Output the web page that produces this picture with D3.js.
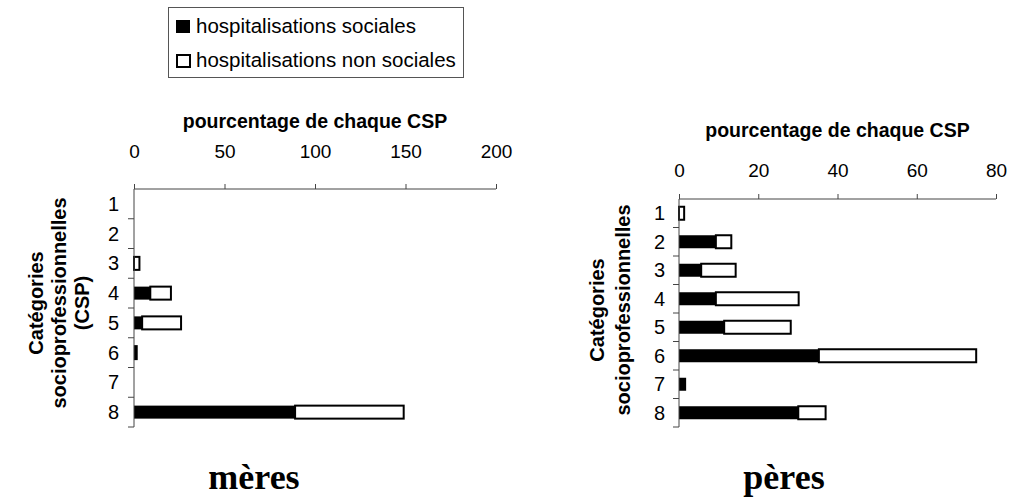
<!DOCTYPE html>
<html>
<head>
<meta charset="utf-8">
<script src="https://cdn.jsdelivr.net/npm/d3@7"></script>
<style>
  body { margin: 0; background: #fff; }
  svg { display: block; }
  text { font-family: "Liberation Sans", Arial, sans-serif; fill: #000; }
  .titre { font-weight: bold; }
  .panel { font-family: "Liberation Serif", "Times New Roman", serif; font-weight: bold; }
</style>
</head>
<body>
<svg width="1013" height="501"></svg>
<script>
// CSP 1..8
var categories = ["1", "2", "3", "4", "5", "6", "7", "8"];
var keys = ["sociales", "nonSociales"];
var legendLabels = ["hospitalisations sociales", "hospitalisations non sociales"];

// mères
var meresSociales    = [0, 0, 0, 9, 4.5, 0.5, 0, 89];
var meresNonSociales = [0, 0, 3, 11.4, 21.5, 1, 0, 60];
var meresTicks = [0, 50, 100, 150, 200];

// pères
var peresSociales    = [0, 9.3, 5.6, 9.3, 11.4, 35.3, 1.8, 30.1];
var peresNonSociales = [1.3, 3.9, 8.7, 20.9, 16.8, 39.7, 0, 6.9];
var peresTicks = [0, 20, 40, 60, 80];

var svg = d3.select("svg");

function rows(soc, non) {
  return categories.map(function(c, i) {
    return {cat: c, sociales: soc[i], nonSociales: non[i]};
  });
}

function drawPanel(cfg) {
  var g = svg.append("g");
  var x = d3.scaleLinear()
      .domain([0, d3.max(cfg.ticks)])
      .range([cfg.x0, cfg.x1]);
  var y = d3.scaleBand()
      .domain(categories)
      .range([cfg.y0, cfg.y1])
      .padding(0);
  var bw = y.bandwidth(), bh = 13;

  var series = d3.stack().keys(keys)(cfg.data);

  // bars
  g.selectAll("g.serie")
    .data(series)
    .enter().append("g")
      .attr("class", "serie")
    .selectAll("rect")
    .data(function(d) { return d.map(function(v) { v.key = d.key; return v; }); })
    .enter().append("rect")
      .filter(function(d) { return d[1] - d[0] > 0; })
      .attr("x", function(d) { return x(d[0]); })
      .attr("y", function(d) { return y(d.data.cat) + (bw - bh) / 2; })
      .attr("width", function(d) { return x(d[1]) - x(d[0]); })
      .attr("height", bh)
      .attr("fill", function(d) { return d.key == "sociales" ? "#000" : "#fff"; })
      .attr("stroke", "#000")
      .attr("stroke-width", function(d) { return d.key == "sociales" ? 0 : 2; });

  // x axis on top
  var xa = d3.axisTop(x).tickValues(cfg.ticks).tickSize(5).tickPadding(0);
  var gx = g.append("g")
      .attr("transform", "translate(0," + cfg.y0 + ")")
      .call(xa);
  gx.select(".domain").attr("stroke", "#444").attr("d", "M" + cfg.x0 + ",0H" + cfg.x1);
  gx.selectAll(".tick line").attr("stroke", "#444");
  gx.selectAll(".tick text")
      .attr("y", cfg.tickLabelY - cfg.y0)
      .attr("dy", 0)
      .style("font-size", "19px")
      .style("font-family", "Liberation Sans, Arial, sans-serif");

  // y axis, ticks between categories
  g.append("line")
      .attr("x1", cfg.x0).attr("x2", cfg.x0)
      .attr("y1", cfg.y0).attr("y2", cfg.y1)
      .attr("stroke", "#444");
  g.selectAll("line.ytick")
    .data(categories)
    .enter().append("line")
      .attr("class", "ytick")
      .attr("x1", cfg.x0 - 6).attr("x2", cfg.x0)
      .attr("y1", function(c) { return y(c) + bw; })
      .attr("y2", function(c) { return y(c) + bw; })
      .attr("stroke", "#444");
  g.selectAll("text.ylab")
    .data(categories)
    .enter().append("text")
      .attr("class", "ylab")
      .attr("x", cfg.catX)
      .attr("y", function(c) { return y(c) + bw / 2 + 7; })
      .attr("text-anchor", "end")
      .style("font-size", "20px")
      .text(function(c) { return c; });

  // axis titles
  g.append("text")
      .attr("class", "titre")
      .attr("x", (cfg.x0 + cfg.x1) / 2)
      .attr("y", cfg.titleY)
      .attr("text-anchor", "middle")
      .style("font-size", "19.5px")
      .text("pourcentage de chaque CSP");

  var yt = g.append("text")
      .attr("class", "titre")
      .attr("text-anchor", "middle")
      .attr("transform", "translate(" + cfg.yTitleX + "," + cfg.yTitleY + ") rotate(-90)")
      .style("font-size", "20px");
  yt.selectAll("tspan")
    .data(cfg.yTitle)
    .enter().append("tspan")
      .attr("x", 0)
      .attr("dy", function(d, i) { return i == 0 ? 0 : cfg.yTitleGap; })
      .text(function(d) { return d; });

  g.append("text")
      .attr("class", "panel")
      .attr("x", cfg.panelX)
      .attr("y", 489)
      .attr("text-anchor", "middle")
      .style("font-size", "36px")
      .text(cfg.panel);
}

drawPanel({
  data: rows(meresSociales, meresNonSociales), ticks: meresTicks,
  x0: 134, x1: 496, y0: 189, y1: 427,
  tickLabelY: 158, titleY: 128, catX: 119,
  yTitle: ["Catégories", "socioprofessionnelles", "(CSP)"],
  yTitleX: 43, yTitleY: 303, yTitleGap: 23,
  panel: "mères", panelX: 254
});

drawPanel({
  data: rows(peresSociales, peresNonSociales), ticks: peresTicks,
  x0: 679, x1: 996, y0: 199, y1: 427,
  tickLabelY: 177, titleY: 137, catX: 665,
  yTitle: ["Catégories", "socioprofessionnelles"],
  yTitleX: 604, yTitleY: 310, yTitleGap: 26,
  panel: "pères", panelX: 784
});

// legend
var leg = svg.append("g");
leg.append("rect")
    .attr("x", 168.5).attr("y", 7.5)
    .attr("width", 295).attr("height", 70)
    .attr("fill", "#fff").attr("stroke", "#555");
var li = leg.selectAll("g.item")
  .data(legendLabels)
  .enter().append("g")
    .attr("class", "item")
    .attr("transform", function(d, i) { return "translate(0," + (i * 34) + ")"; });
li.append("rect")
    .attr("x", function(d, i) { return i == 0 ? 176 : 177; })
    .attr("y", function(d, i) { return i == 0 ? 20 : 21; })
    .attr("width", function(d, i) { return i == 0 ? 14 : 13; })
    .attr("height", function(d, i) { return i == 0 ? 13 : 12; })
    .attr("fill", function(d, i) { return i == 0 ? "#000" : "#fff"; })
    .attr("stroke", "#000")
    .attr("stroke-width", function(d, i) { return i == 0 ? 0 : 2; });
li.append("text")
    .attr("x", 196)
    .attr("y", 33)
    .style("font-size", "20.5px")
    .text(function(d) { return d; });
</script>
</body>
</html>
